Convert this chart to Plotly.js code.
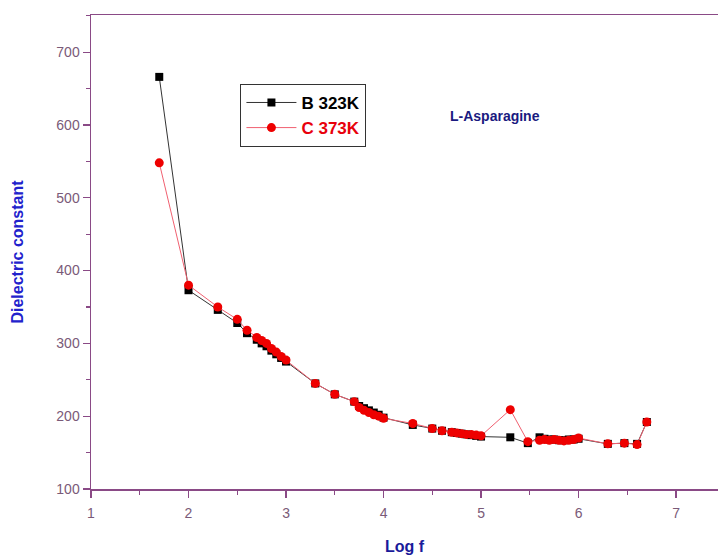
<!DOCTYPE html>
<html><head><meta charset="utf-8">
<script src="https://cdn.plot.ly/plotly-3.0.1.min.js"></script>
<style>html,body{margin:0;padding:0;background:#fff}#g{width:718px;height:558px}</style>
</head><body><div id="g"></div>
<script>
var logF = [1.7, 2.0, 2.3, 2.5, 2.6, 2.7, 2.75, 2.8, 2.85, 2.9, 2.95, 3.0, 3.3, 3.5, 3.7, 3.75, 3.8, 3.85, 3.9, 3.95, 4.0, 4.3, 4.5, 4.6, 4.7, 4.75, 4.8, 4.85, 4.9, 4.95, 5.0, 5.3, 5.48, 5.6, 5.65, 5.7, 5.75, 5.8, 5.85, 5.9, 5.95, 6.0, 6.3, 6.47, 6.6, 6.7];
var b323K = [666, 373, 346, 328, 314, 305, 300, 296, 290, 285, 280, 275, 245, 230, 220, 214, 211, 208, 205, 202, 198, 188, 183, 180, 178, 177, 176, 175, 174, 173, 172, 171, 163, 171, 169, 168, 168, 167, 167, 168, 168, 169, 162, 163, 162, 192];
var c373K = [548, 380, 350, 333, 318, 308, 304, 300, 293, 288, 282, 277, 245, 230, 220, 212, 208, 205, 202, 200, 197, 190, 183, 180, 178, 177, 176, 175, 175, 174, 173, 209, 165, 167, 168, 167, 168, 167, 166, 167, 168, 170, 162, 163, 161, 192];
var seriesNames = ['B 323K', 'C 373K'];

var axisCol = '#8a4a86';
var tickCol = '#7a5a78';
var fam = 'Liberation Sans, Arial, sans-serif';
var traces = [
  {x: logF, y: b323K, name: seriesNames[0], type: 'scatter', mode: 'lines+markers',
   line: {color: '#333333', width: 1}, marker: {symbol: 'square', size: 8, color: '#000000'}},
  {x: logF, y: c373K, name: '<span style="color:#e8000b">' + seriesNames[1] + '</span>', type: 'scatter', mode: 'lines+markers',
   line: {color: '#f06070', width: 1}, marker: {symbol: 'circle', size: 9, color: '#ee0000'}}
];
var layout = {
  width: 718, height: 558,
  margin: {l: 91, r: 0, t: 15, b: 69},
  paper_bgcolor: '#ffffff', plot_bgcolor: '#ffffff',
  showlegend: true,
  legend: {x: 0.238, y: 0.855, xanchor: 'left', yanchor: 'top', bgcolor: '#ffffff',
    bordercolor: '#333333', borderwidth: 1.2,
    font: {family: fam, size: 17, color: '#000000', weight: 'bold'},
    tracegroupgap: 0, itemwidth: 50},
  xaxis: {range: [1, 7.43], showgrid: false, zeroline: false, showline: true, linecolor: axisCol, linewidth: 1.5,
    mirror: true, ticks: 'outside', ticklen: 7, tickwidth: 1.2, tickcolor: axisCol, dtick: 1, tick0: 1,
    minor: {dtick: 0.5, ticks: 'outside', ticklen: 4, tickcolor: axisCol},
    ticklabelstandoff: 4,
    tickfont: {family: fam, size: 14, color: tickCol},
    title: {text: 'Log f', standoff: 20, font: {family: fam, size: 16, color: '#1a1a9a', weight: 'bold'}}},
  yaxis: {range: [100, 751], showgrid: false, zeroline: false, showline: true, linecolor: axisCol, linewidth: 1.5,
    ticks: 'outside', ticklen: 7, tickwidth: 1.2, tickcolor: axisCol, dtick: 100, tick0: 100,
    minor: {dtick: 50, ticks: 'outside', ticklen: 4, tickcolor: axisCol},
    tickfont: {family: fam, size: 14, color: tickCol},
    title: {text: 'Dielectric constant', standoff: 28, font: {family: fam, size: 16, color: '#2222cc', weight: 'bold'}}},
  annotations: [{text: 'L-Asparagine', xref: 'paper', yref: 'paper', x: 0.644, y: 0.787, xanchor: 'center', yanchor: 'middle',
    showarrow: false, font: {family: fam, size: 14, color: '#1a1a80', weight: 'bold'}}]
};
Plotly.newPlot('g', traces, layout, {displayModeBar: false, staticPlot: true});
</script>
</body></html>
